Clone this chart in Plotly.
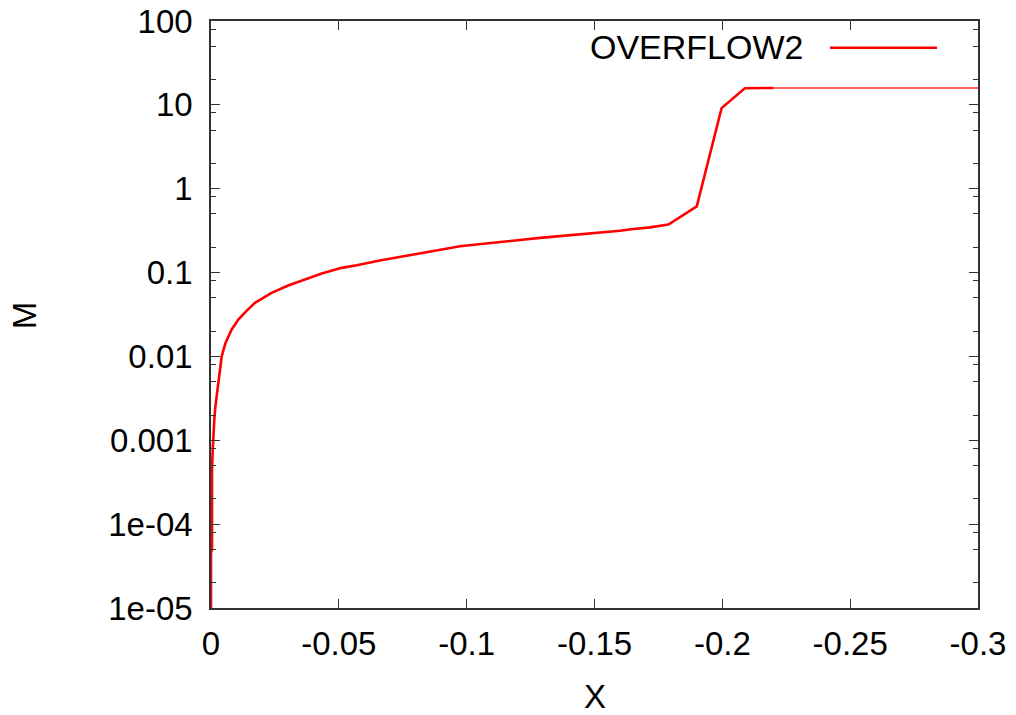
import plotly.graph_objects as go

# Data
x_main = [0.0, 0.0, -0.0004, -0.0004, -0.0007, -0.0009, -0.0013, -0.0017, -0.0022,
          -0.0031, -0.0042, -0.0057, -0.0081, -0.0107, -0.0139, -0.0172, -0.0237,
          -0.0302, -0.0368, -0.0433, -0.0511, -0.057, -0.0665, -0.0974, -0.1287,
          -0.1521, -0.16, -0.1652, -0.1717, -0.1789, -0.19, -0.1997, -0.2043,
          -0.2088, -0.22]
m_main = [1e-6, 4.5e-5, 5e-5, 4.5e-4, 8e-4, 0.0012, 0.00178, 0.0025, 0.00336,
          0.0058, 0.0101, 0.0146, 0.021, 0.0275, 0.035, 0.0435, 0.0573,
          0.070, 0.0826, 0.0973, 0.1138, 0.122, 0.140, 0.206, 0.259,
          0.297, 0.316, 0.331, 0.346, 0.373, 0.616, 9.14, 12.0,
          15.8, 15.9]
x_tail = [-0.22, -0.3]
m_tail = [15.9, 15.9]

series_name = "OVERFLOW2"
x_title = "X"
y_title = "M"
x_tickvals = [0, -0.05, -0.1, -0.15, -0.2, -0.25, -0.3]
x_ticktext = ["0", "-0.05", "-0.1", "-0.15", "-0.2", "-0.25", "-0.3"]
y_tickvals = [100, 10, 1, 0.1, 0.01, 0.001, 1e-4, 1e-5]
y_ticktext = ["100", "10", "1", "0.1", "0.01", "0.001", "1e-04", "1e-05"]
y_minor = [m * 10.0 ** e for e in range(-5, 2) for m in (2, 5, 8)]

FONT = "Liberation Sans, Arial, sans-serif"
AXIS_COLOR = "#333333"

fig = go.Figure()
fig.add_trace(go.Scatter(x=x_main, y=m_main, mode="lines",
                         line=dict(color="#ff0000", width=2.6),
                         name=series_name, showlegend=False))
fig.add_trace(go.Scatter(x=x_tail, y=m_tail, mode="lines",
                         line=dict(color="#ff3030", width=1.4),
                         showlegend=False))

fig.update_layout(
    width=1016, height=715,
    margin=dict(l=211, r=38, t=21, b=107),
    paper_bgcolor="white", plot_bgcolor="white",
    font=dict(family=FONT, size=33, color="black"),
    showlegend=False,
)
fig.update_xaxes(
    range=[0, -0.3], tickvals=x_tickvals, ticktext=x_ticktext,
    automargin=False, ticklabeloverflow="allow",
    showgrid=False, zeroline=False,
    showline=True, linecolor=AXIS_COLOR, linewidth=1.6, mirror="ticks",
    ticks="inside", ticklen=9, tickwidth=1.4, tickcolor=AXIS_COLOR,
    ticklabelstandoff=6,
)
fig.update_yaxes(
    type="log", range=[-5, 2], tickvals=y_tickvals, ticktext=y_ticktext,
    automargin=False, ticklabeloverflow="allow",
    showgrid=False, zeroline=False,
    showline=True, linecolor=AXIS_COLOR, linewidth=1.6, mirror="ticks",
    ticks="inside", ticklen=9, tickwidth=1.4, tickcolor=AXIS_COLOR,
    minor=dict(tickvals=y_minor, ticks="inside", ticklen=5, tickwidth=1.2,
               tickcolor=AXIS_COLOR, showgrid=False),
    ticklabelstandoff=10,
)

# axis titles
fig.add_annotation(xref="paper", yref="paper", x=0.5006, y=-0.15,
                   text=x_title, showarrow=False, xanchor="center",
                   yanchor="middle", font=dict(size=33, family=FONT))
fig.add_annotation(xref="paper", yref="paper", x=-0.243, y=0.498,
                   text=y_title, showarrow=False, textangle=-90,
                   xanchor="center", yanchor="middle",
                   font=dict(size=33, family=FONT))

# gnuplot-style key: text on the left, line sample on the right
fig.add_annotation(xref="paper", yref="paper", x=0.7745, y=0.9557,
                   text=series_name, showarrow=False, xanchor="right",
                   yanchor="middle", font=dict(size=34, family=FONT))
fig.add_shape(type="line", xref="paper", yref="paper",
              x0=0.807, x1=0.9466, y0=0.9545, y1=0.9545,
              line=dict(color="#ff0000", width=2.6))

fig.write_html(
    "out.html",
    config={"displayModeBar": False},
    post_script="document.body.style.margin='0';document.body.style.overflow='hidden';",
)
